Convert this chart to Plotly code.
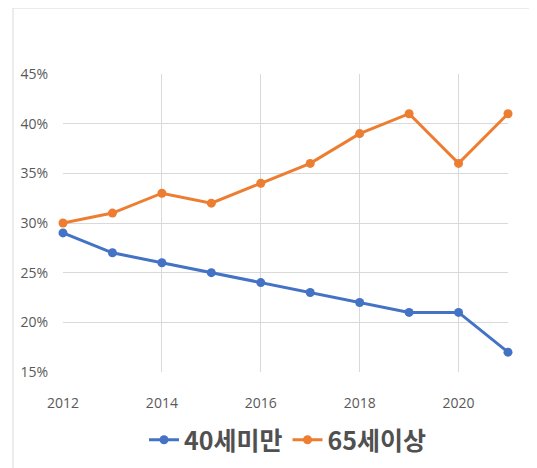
import plotly.graph_objects as go

years = [2012, 2013, 2014, 2015, 2016, 2017, 2018, 2019, 2020, 2021]
under40 = [29, 27, 26, 25, 24, 23, 22, 21, 21, 17]
over65 = [30, 31, 33, 32, 34, 36, 39, 41, 36, 41]
series_names = ["40세미만", "65세이상"]

fig = go.Figure()
fig.add_trace(go.Scatter(x=years, y=under40, name=series_names[0], mode="lines+markers",
                         line=dict(color="#4472C4", width=3), marker=dict(size=9, color="#4472C4"),
                         cliponaxis=False))
fig.add_trace(go.Scatter(x=years, y=over65, name=series_names[1], mode="lines+markers",
                         line=dict(color="#ED7D31", width=3), marker=dict(size=9, color="#ED7D31"),
                         cliponaxis=False))

OFF = 8  # page body offset
W, H = 537, 468
l, t = 63 - OFF, 74 - OFF
pw, ph = 445, 298
r = W - l - pw
b = H - t - ph

def px(x):
    return (x - OFF - l) / pw

def py(y):
    return (H - b - (y - OFF)) / ph

fig.update_layout(
    width=W, height=H,
    margin=dict(l=l, r=r, t=t, b=b, autoexpand=False),
    paper_bgcolor="white", plot_bgcolor="white",
    font=dict(family="Open Sans, Noto Sans CJK KR", color="#595959", size=13),
    showlegend=True,
    legend=dict(orientation="h", x=px(288), xanchor="center", y=py(440), yanchor="middle",
                font=dict(family="Noto Sans CJK KR", size=25, color="#505050", weight="bold"),
                itemwidth=30, tracegroupgap=0, bgcolor="rgba(0,0,0,0)"),
    xaxis=dict(range=[2012, 2021], tickmode="linear", tick0=2012, dtick=2, automargin=False,
               showgrid=True, gridcolor="#D9D9D9", gridwidth=1, zeroline=False,
               showline=False, ticks="", ticklabelstandoff=21,
               tickfont=dict(size=14, color="#595959")),
    yaxis=dict(range=[15, 45], tickmode="linear", tick0=15, dtick=5, ticksuffix="%", automargin=False,
               showgrid=True, gridcolor="#D9D9D9", gridwidth=1, zeroline=False,
               showline=False, ticks="", ticklabelstandoff=14,
               tickfont=dict(size=14, color="#595959")),
    shapes=[
        dict(type="line", xref="paper", yref="paper", x0=px(13), x1=px(560), y0=py(8), y1=py(8),
             line=dict(color="#D9D9D9", width=1)),
        dict(type="line", xref="paper", yref="paper", x0=px(13), x1=px(13), y0=py(8), y1=py(490),
             line=dict(color="#D9D9D9", width=1)),
    ],
)

fig.write_html("out.html")
